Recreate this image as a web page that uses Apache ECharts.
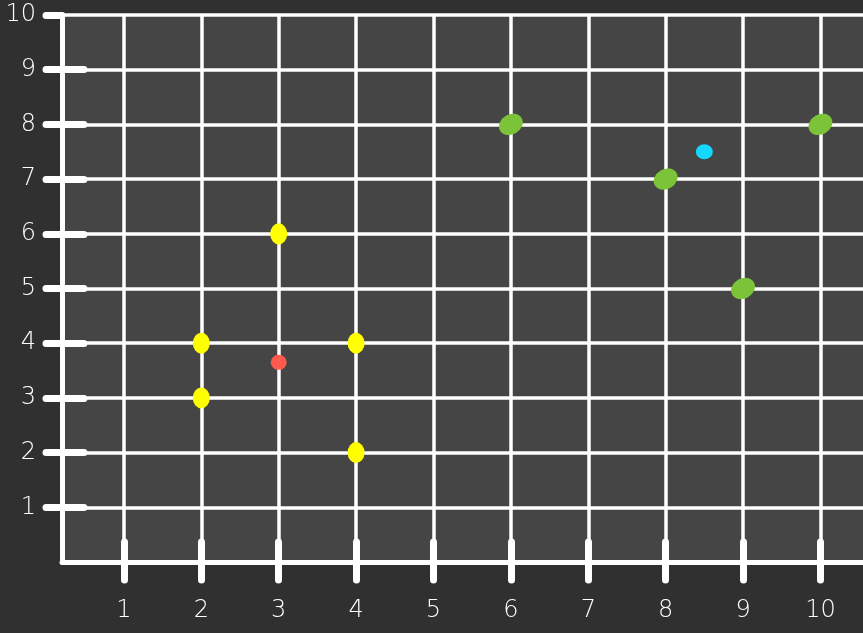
<!DOCTYPE html>
<html>
<head>
<meta charset="utf-8">
<script src="https://cdn.jsdelivr.net/npm/echarts@6/dist/echarts.min.js"></script>
<style>
  html, body { margin: 0; padding: 0; background: #303030; }
  #chart { width: 863px; height: 633px; }
</style>
</head>
<body>
<div id="chart"></div>
<script>
const tickValues = [1, 2, 3, 4, 5, 6, 7, 8, 9, 10];

const yellowPoints = [[2, 4], [2, 3], [3, 6], [4, 4], [4, 2]];
const redPoints = [[3, 3.65]];
const greenPoints = [[6, 8], [8, 7], [9, 5], [10, 8]];
const bluePoints = [[8.5, 7.5]];

const labelFont = { color: "#fff", fontSize: 24, fontFamily: "DejaVu Sans", fontWeight: 200 };

const chart = echarts.init(document.getElementById("chart"));

chart.setOption({
  backgroundColor: "#303030",
  animation: false,
  grid: {
    left: 62, top: 15, right: 0, bottom: 71,
    show: true, backgroundColor: "#454545", borderWidth: 0,
  },
  xAxis: [
    {
      type: "value", min: 0.2, max: 10.55, position: "bottom",
      axisLine: { show: true, onZero: false, lineStyle: { color: "#fff", width: 5 } },
      axisTick: { show: true, customValues: tickValues, length: 18,
        lineStyle: { color: "#fff", width: 7, cap: "round" } },
      axisLabel: { customValues: tickValues, margin: 37, ...labelFont },
      splitLine: { show: true, lineStyle: { color: "#fff", width: 3.5 } },
    },
    {
      type: "value", min: 0.2, max: 10.55, position: "bottom", offset: 0,
      axisLine: { show: false, onZero: false },
      axisTick: { show: true, inside: true, customValues: tickValues, length: 20,
        lineStyle: { color: "#fff", width: 7, cap: "round" } },
      axisLabel: { show: false },
      splitLine: { show: false },
    },
  ],
  yAxis: [
    {
      type: "value", min: 0, max: 10, interval: 1, position: "left",
      axisLine: { show: true, onZero: false, lineStyle: { color: "#fff", width: 5 } },
      axisTick: { show: true, customValues: tickValues, length: 16,
        lineStyle: { color: "#fff", width: 7, cap: "round" } },
      axisLabel: { customValues: tickValues, margin: 26, ...labelFont },
      splitLine: { show: true, lineStyle: { color: "#fff", width: 3.5 } },
    },
    {
      type: "value", min: 0, max: 10, interval: 1, position: "left", offset: 0,
      axisLine: { show: false, onZero: false },
      axisTick: { show: true, inside: true, customValues: tickValues.slice(0, 9), length: 22,
        lineStyle: { color: "#fff", width: 7, cap: "round" } },
      axisLabel: { show: false },
      splitLine: { show: false },
    },
  ],
  series: [
    { type: "scatter", data: yellowPoints, symbolSize: [17, 21],
      itemStyle: { color: "#ffff00", opacity: 1 } },
    { type: "scatter", data: redPoints, symbolSize: [16, 15],
      itemStyle: { color: "#ff5a4e", opacity: 1 } },
    { type: "scatter", data: greenPoints, symbolSize: [25, 20], symbolRotate: 30,
      itemStyle: { color: "#7dc33a", opacity: 1 } },
    { type: "scatter", data: bluePoints, symbolSize: [17, 15],
      itemStyle: { color: "#16d8ff", opacity: 1 } },
  ],
});
</script>
</body>
</html>
